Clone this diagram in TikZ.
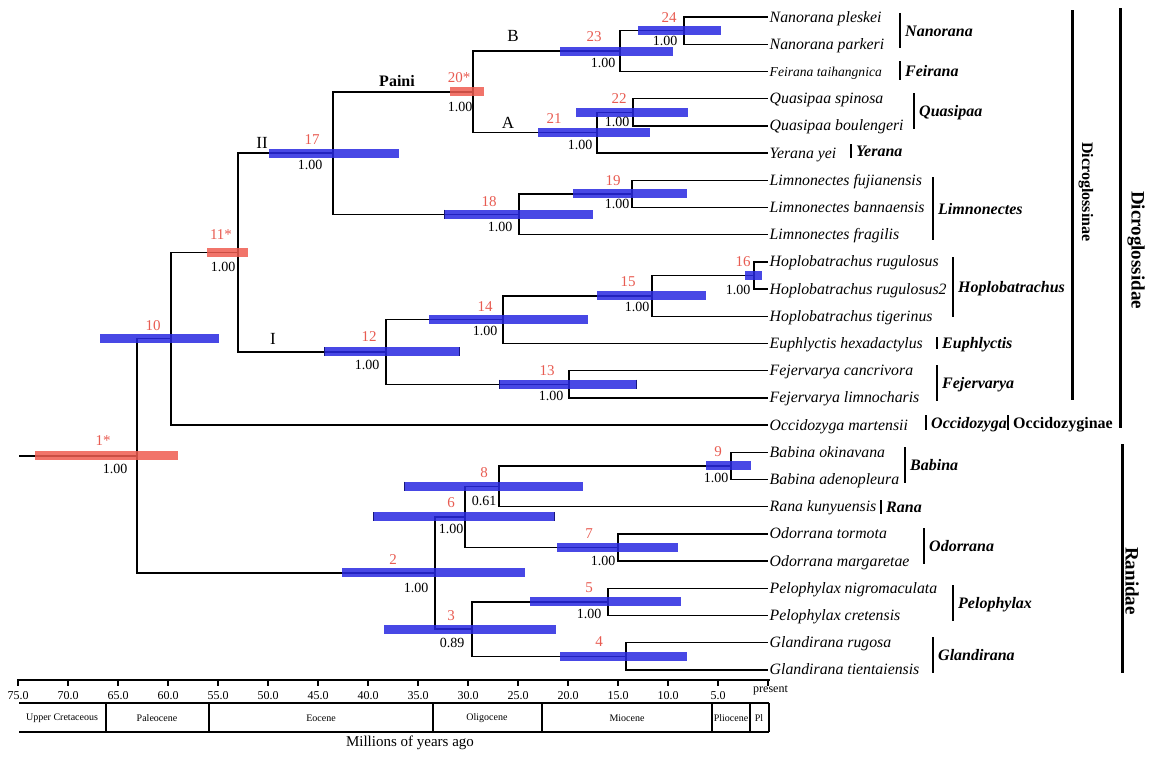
\documentclass[tikz,border=0pt]{standalone}
\usepackage{fontspec}
\setmainfont{Liberation Serif}
\usepackage{tikz}
\definecolor{hpdblue}{RGB}{40,40,225}
\definecolor{hpdred}{RGB}{238,92,80}
\definecolor{nodered}{RGB}{232,92,82}
\tikzset{
	branch/.style={black,line width=1.4pt},
	hpdbar/.style={line width=9pt,opacity=0.85},
	barcap/.style={line width=1pt,hpdblue!55!black},
	taxon/.style={anchor=west,inner sep=1.5pt,text height=13pt,text depth=3pt,font=\fontsize{15.8}{18}\selectfont\itshape},
	genus/.style={anchor=west,inner sep=0pt,text height=11pt,text depth=0pt,font=\fontsize{16}{18}\selectfont\bfseries\itshape},
	cladebar/.style={line width=2pt},
	groupbar/.style={line width=3pt},
	nodenum/.style={text=nodered,inner sep=0pt,font=\fontsize{15}{16}\selectfont},
	support/.style={inner sep=0pt,font=\fontsize{14}{15}\selectfont},
	epoch/.style={inner sep=0pt,font=\fontsize{10}{11}\selectfont},
}
\begin{document}
\begin{tikzpicture}[x=1pt,y=-1pt]
	\useasboundingbox (0,0) rectangle (1174,761);
	\foreach \i/\name in {1/Nanorana pleskei, 2/Nanorana parkeri, 3/{\fontsize{13.6}{15}\selectfont Feirana taihangnica}, 4/Quasipaa spinosa, 5/Quasipaa boulengeri, 6/Yerana yei, 7/Limnonectes fujianensis, 8/Limnonectes bannaensis, 9/Limnonectes fragilis, 10/Hoplobatrachus rugulosus, 11/Hoplobatrachus rugulosus2, 12/Hoplobatrachus tigerinus, 13/Euphlyctis hexadactylus, 14/Fejervarya cancrivora, 15/Fejervarya limnocharis, 16/Occidozyga martensii, 17/Babina okinavana, 18/Babina adenopleura, 19/Rana kunyuensis, 20/Odorrana tormota, 21/Odorrana margaretae, 22/Pelophylax nigromaculata, 23/Pelophylax cretensis, 24/Glandirana rugosa, 25/Glandirana tientaiensis}
		\node[taxon] (L\i) at (768,{17+27.2*(\i-1)}) {\name};
	\foreach \n/\x/\y in {24/684/30.6, 23/620/51.0, 22/633/112.2, 21/597/132.6, 20/473/91.8, 19/632/193.8, 18/519/214.2, 17/333/153.0, 16/754/275.4, 15/652/295.8, 14/503/319.6, 13/569/384.2, 12/386/351.9, 11/238/252.5, 10/171/338.7, 9/731/465.8, 8/499/486.2, 7/618/547.4, 6/465/516.8, 5/608/601.8, 4/626/656.2, 3/472/629.0, 2/435/572.9, 1/137/455.8}
		\coordinate (n\n) at (\x,\y);
	\coordinate (root) at (19,455.8);
	\draw[branch] (root) -- (n1);
	\foreach \p/\c in {n1/n10, n1/n2, n10/n11, n10/L16.west, n11/n17, n11/n12, n17/n20, n17/n18, n20/n23, n20/n21, n23/n24, n23/L3.west, n24/L1.west, n24/L2.west, n21/n22, n21/L6.west, n22/L4.west, n22/L5.west, n18/n19, n18/L9.west, n19/L7.west, n19/L8.west, n12/n14, n12/n13, n14/n15, n14/L13.west, n15/n16, n15/L12.west, n16/L10.west, n16/L11.west, n13/L14.west, n13/L15.west, n2/n6, n2/n3, n6/n8, n6/n7, n8/n9, n8/L19.west, n9/L17.west, n9/L18.west, n7/L20.west, n7/L21.west, n3/n5, n3/n4, n5/L22.west, n5/L23.west, n4/L24.west, n4/L25.west}
		\draw[branch] (\p) |- (\c);
	\foreach \n/\a/\b in {24/638/721, 23/560/673, 22/576/688, 21/538/650, 19/573/687, 18/444/593, 17/269/399, 16/745/762, 15/597/706, 14/429/588, 13/499/636, 12/324/459, 10/100/219, 9/706/751, 8/404/583, 7/557/678, 6/373/554, 5/530/681, 4/560/687, 3/384/556, 2/342/525}
		\draw[hpdbar,hpdblue] (\a,0 |- n\n) -- (\b,0 |- n\n);
	\foreach \n/\a/\b in {20/450/484, 11/207/248, 1/35/178}
		\draw[hpdbar,hpdred] (\a,0 |- n\n) -- (\b,0 |- n\n);
	\draw[barcap] (324,347.4) -- (324,356.4);
	\draw[barcap] (459,347.4) -- (459,356.4);
	\draw[barcap] (499,379.7) -- (499,388.7);
	\draw[barcap] (636,379.7) -- (636,388.7);
	\draw[barcap] (373,512.3) -- (373,521.3);
	\draw[barcap] (554,512.3) -- (554,521.3);
	\draw[barcap] (404,481.7) -- (404,490.7);
	\draw[barcap] (444,209.7) -- (444,218.7);
	\foreach \n/\x/\y/\t in {24/669/18/24, 23/594/37/23, 22/619/99/22, 21/554/119/21, 20/459/78/20*, 19/613/181/19, 18/489/202/18, 17/312/140/17, 16/743/262/16, 15/628/282/15, 14/485/307/14, 13/547/371/13, 12/369/337/12, 11/221/235/11*, 10/153/326/10, 9/718/452/9, 8/484/473/8, 7/589/534/7, 6/451/503/6, 5/589/588/5, 4/599/642/4, 3/451/616/3, 2/393/560/2, 1/103/441/1*}
		\node[nodenum] (num\n) at (\x,\y) {\t};
	\foreach \n/\x/\y/\t in {24/665/41/1.00, 23/603/63/1.00, 22/617/122/1.00, 21/580/145/1.00, 20/460/107/1.00, 19/617/204/1.00, 18/500/227/1.00, 17/310/165/1.00, 16/738/290/1.00, 15/637/307/1.00, 14/485/331/1.00, 13/551/396/1.00, 12/367/365/1.00, 11/223/267/1.00, 9/716/478/1.00, 8/484/501/0.61, 7/603/561/1.00, 6/451/529/1.00, 5/589/614/1.00, 3/452/643/0.89, 2/416/588/1.00, 1/115/469/1.00}
		\node[support] (pp\n) at (\x,\y) {\t};
	\node[font=\fontsize{17}{18}\selectfont] (labII) at (262,143) {II};
	\node[font=\fontsize{17}{18}\selectfont] (labI) at (273,339) {I};
	\node[font=\fontsize{17}{18}\selectfont] (labB) at (513,36) {B};
	\node[font=\fontsize{17}{18}\selectfont] (labA) at (508,123) {A};
	\node[font=\fontsize{16}{18}\selectfont\bfseries] (paini) at (397,81) {Paini};
	\foreach \g/\x/\a/\b in {Nanorana/900/13/48, Feirana/900/61/80, Quasipaa/914/93/129, Yerana/851/144/158, Limnonectes/933/177/240, Hoplobatrachus/953/257/317, Euphlyctis/937/337/349, Fejervarya/937/365/401, Occidozyga/926/415/430, Babina/905/447/483, Rana/881/500/514, Odorrana/924/528/564, Pelophylax/953/585/621, Glandirana/933/637/673}
	{
		\draw[cladebar] (\x,\a) -- (\x,\b);
		\node[genus] (\g) at ({\x+5},{(\a+\b)/2}) {\g};
	}
	\draw[cladebar] (1008,415) -- (1008,430);
	\node[anchor=west,inner sep=0pt,text height=11pt,text depth=0pt,font=\fontsize{16}{18}\selectfont\bfseries] (occz) at (1013,422.5) {Occidozyginae};
	\draw[groupbar] (1072,10) -- (1072,400);
	\draw[groupbar] (1120,8) -- (1120,428);
	\draw[groupbar] (1122,444) -- (1122,673);
	\node[rotate=-90,font=\fontsize{16}{18}\selectfont\bfseries] (dgn) at (1086,192) {Dicroglossinae};
	\node[rotate=-90,font=\fontsize{19}{21}\selectfont\bfseries] (dgd) at (1136,250) {Dicroglossidae};
	\node[rotate=-90,font=\fontsize{19}{21}\selectfont\bfseries] (ran) at (1132,581) {Ranidae};
	\draw[line width=2pt] (17,680) -- (770,680);
	\foreach \t in {0,5,...,75}
		\draw[line width=1.2pt] ({768-10*\t},680) -- ({768-10*\t},686);
	\foreach \t in {5,10,...,75}
		\node[font=\fontsize{12}{13}\selectfont,inner sep=0pt] (tk\t) at ({768-10*\t},696) {\t.0};
	\node[anchor=west,inner sep=0pt,font=\fontsize{12}{13}\selectfont] (tk0) at (753,690) {present};
	\draw[line width=1.8pt] (19,703) -- (769,703);
	\draw[line width=1.8pt] (19,732) -- (769,732);
	\foreach \x in {106,209,433,542,712,750,769}
		\draw[line width=1.5pt] (\x,703) -- (\x,732);
	\foreach \x/\e in {62/Upper Cretaceous, 157/Paleocene, 321/Eocene, 487/Oligocene, 627/Miocene, 731/Pliocene, 759/Pl}
		\node[epoch] (ep\x) at (\x,718) {\e};
	\node[font=\fontsize{15}{16}\selectfont] (mya) at (410,743) {Millions of years ago};
\end{tikzpicture}
\end{document}
